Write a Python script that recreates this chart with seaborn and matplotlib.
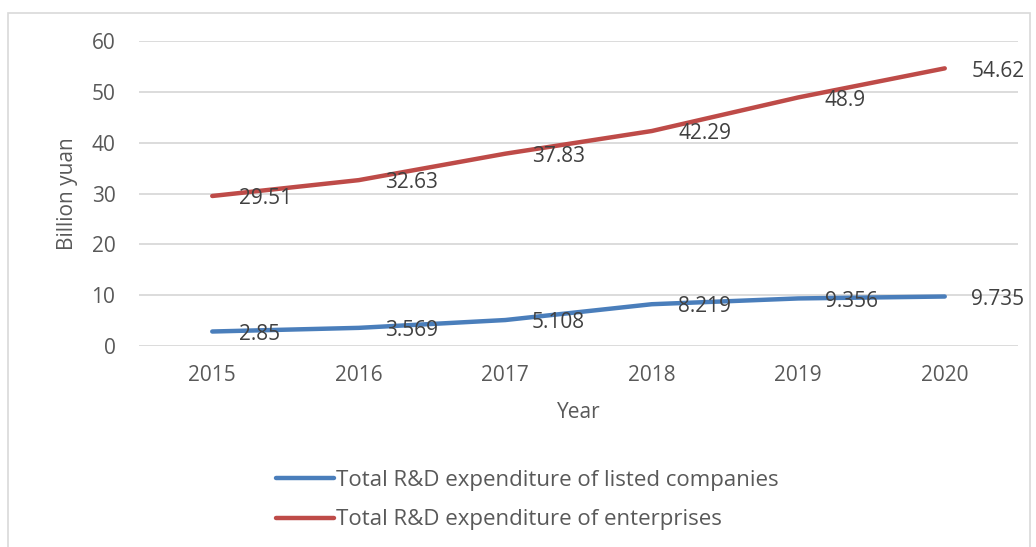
import matplotlib
matplotlib.use("Agg")
import matplotlib.pyplot as plt
import seaborn as sns
import pandas as pd
from matplotlib.patches import Rectangle

years = [2015, 2016, 2017, 2018, 2019, 2020]
listed_companies = [2.85, 3.569, 5.108, 8.219, 9.356, 9.735]
enterprises = [29.51, 32.63, 37.83, 42.29, 48.9, 54.62]
series_names = ["Total R&D expenditure of listed companies",
                "Total R&D expenditure of enterprises"]
listed_labels = ["2.85", "3.569", "5.108", "8.219", "9.356", "9.735"]
enterprise_labels = ["29.51", "32.63", "37.83", "42.29", "48.9", "54.62"]

sns.set_theme(style="white")
plt.rcParams["font.family"] = ["Open Sans", "DejaVu Sans"]

df = pd.DataFrame({
    "Year": [str(y) for y in years] * 2,
    "Value": listed_companies + enterprises,
    "Series": [series_names[0]] * len(years) + [series_names[1]] * len(years),
})

fig = plt.figure(figsize=(10.36, 5.47), dpi=100)
fig.patch.set_facecolor("white")
# light frame around the chart area
fig.add_artist(Rectangle((8 / 1036, -0.01), 1022 / 1036, 1 - 13 / 547 + 0.01,
                         transform=fig.transFigure, fill=False,
                         edgecolor="#d9d9d9", linewidth=1.2))

ax = fig.add_axes([139 / 1036, 1 - 346 / 547, (1018 - 139) / 1036, (346 - 41) / 547])

palette = {series_names[0]: "#4a7ebb", series_names[1]: "#be4b48"}
sns.lineplot(data=df, x="Year", y="Value", hue="Series", palette=palette,
             linewidth=3.2, ax=ax, legend=False, sort=False)

ax.set_xlim(-0.5, len(years) - 0.5)
ax.set_ylim(0, 60)
ax.set_yticks(range(0, 61, 10))
ax.yaxis.grid(True, color="#d9d9d9", linewidth=1.3)
ax.xaxis.grid(False)
for s in ax.spines.values():
    s.set_visible(False)
ax.tick_params(axis="both", length=0, labelsize=15, labelcolor="#595959")
ax.tick_params(axis="y", pad=17)
ax.tick_params(axis="x", pad=14)

ax.set_xlabel("Year", fontsize=15, color="#595959", labelpad=11)
ax.set_ylabel("Billion yuan", fontsize=15, color="#595959", labelpad=10)

for i, (v, t) in enumerate(zip(listed_companies, listed_labels)):
    ax.annotate(t, (i, v), xytext=(19, -2), textcoords="offset points",
                ha="left", va="center", fontsize=15, color="#404040")
for i, (v, t) in enumerate(zip(enterprises, enterprise_labels)):
    ax.annotate(t, (i, v), xytext=(19, -2), textcoords="offset points",
                ha="left", va="center", fontsize=15, color="#404040")

# legend below the plot
handles = [plt.Line2D([], [], color=palette[n], linewidth=3.2) for n in series_names]
fig.legend(handles, series_names, loc="center left",
           bbox_to_anchor=(256 / 1036, 1 - 500 / 547), frameon=False,
           fontsize=16, labelcolor="#595959", handlelength=2.6,
           handletextpad=0.1, labelspacing=0.85)

fig.savefig("out.png", dpi=100)
